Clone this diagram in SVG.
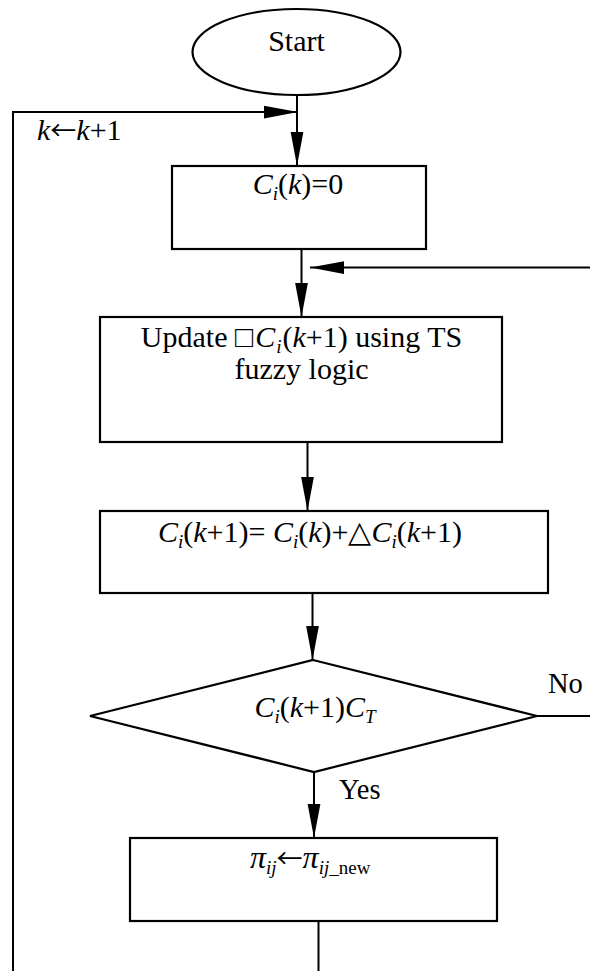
<svg xmlns="http://www.w3.org/2000/svg" width="590" height="971" viewBox="0 0 590 971">
<style>
.shape{fill:#fff;stroke:#000;stroke-width:2.2}
.line{fill:none;stroke:#000;stroke-width:2}
text{font-family:"Liberation Serif","Times New Roman",serif;font-size:30px;fill:#000}
.c{text-anchor:middle}
.it{font-style:italic}
.sub{font-size:19px}
.arr{font-family:"Noto Sans CJK SC","DejaVu Sans",sans-serif;font-size:26px}
.pi{font-size:32px}
</style>
<defs>
<marker id="ah" markerUnits="userSpaceOnUse" markerWidth="34" markerHeight="14" viewBox="0 0 32 12" refX="32" refY="6" orient="auto">
<path d="M0,0 L32,6 L0,12 z" fill="#000"/>
</marker>
</defs>
<rect width="590" height="971" fill="#fff"/>
<g id="connectors">
<line class="line" x1="297" y1="95" x2="297" y2="166" marker-end="url(#ah)"/>
<polyline class="line" points="13,971 13,112 298,112" marker-end="url(#ah)"/>
<line class="line" x1="301.5" y1="249" x2="301.5" y2="317" marker-end="url(#ah)"/>
<line class="line" x1="590" y1="267.5" x2="310" y2="267.5" marker-end="url(#ah)"/>
<line class="line" x1="307.5" y1="442" x2="307.5" y2="511" marker-end="url(#ah)"/>
<line class="line" x1="312.5" y1="593" x2="312.5" y2="660" marker-end="url(#ah)"/>
<line class="line" x1="537" y1="716" x2="590" y2="716"/>
<line class="line" x1="314" y1="772" x2="314" y2="838" marker-end="url(#ah)"/>
<line class="line" x1="318.5" y1="921" x2="318.5" y2="971"/>
<text x="37" y="140"><tspan class="it">k</tspan><tspan class="arr">←</tspan><tspan class="it">k</tspan>+1</text>
<text x="548" y="693" style="font-size:28.5px">No</text>
<text x="339" y="799" style="font-size:28.5px">Yes</text>
</g>
<g id="start">
<ellipse class="shape" cx="296.5" cy="52" rx="104" ry="43"/>
<text class="c" x="296.5" y="51">Start</text>
</g>
<g id="init">
<rect class="shape" x="172" y="166" width="254" height="83"/>
<text class="c" x="298" y="194"><tspan class="it">C</tspan><tspan class="sub it" dy="6">i</tspan><tspan dy="-6">(</tspan><tspan class="it">k</tspan>)=0</text>
</g>
<g id="update">
<rect class="shape" x="100" y="317" width="402" height="125"/>
<text class="c" x="301.5" y="347">Update □<tspan class="it" dx="2">C</tspan><tspan class="sub it" dx="1" dy="6">i</tspan><tspan dx="1" dy="-6">(</tspan><tspan class="it">k</tspan>+1) using TS</text>
<text class="c" x="301.5" y="379">fuzzy logic</text>
</g>
<g id="accumulate">
<rect class="shape" x="100" y="511" width="448" height="82"/>
<text class="c" x="310" y="542"><tspan class="it">C</tspan><tspan class="sub it" dy="6">i</tspan><tspan dy="-6">(</tspan><tspan class="it">k</tspan>+1)= <tspan class="it">C</tspan><tspan class="sub it" dy="6">i</tspan><tspan dy="-6">(</tspan><tspan class="it">k</tspan>)+△<tspan class="it">C</tspan><tspan class="sub it" dy="6">i</tspan><tspan dy="-6">(</tspan><tspan class="it">k</tspan>+1)</text>
</g>
<g id="decision">
<polygon class="shape" points="313,660 537,716 314,772 90,716"/>
<text class="c" x="315" y="717"><tspan class="it">C</tspan><tspan class="sub it" dy="6">i</tspan><tspan dy="-6">(</tspan><tspan class="it">k</tspan>+1)<tspan class="it">C</tspan><tspan class="sub it" dy="6">T</tspan></text>
</g>
<g id="assign">
<rect class="shape" x="130" y="838" width="367" height="83"/>
<text x="250" y="868"><tspan class="it pi">π</tspan><tspan class="sub it" dy="6">ij</tspan><tspan class="arr" dy="-6">←</tspan><tspan class="it pi">π</tspan><tspan class="sub" dy="6"><tspan class="it">ij</tspan>_new</tspan></text>
</g>
</svg>
